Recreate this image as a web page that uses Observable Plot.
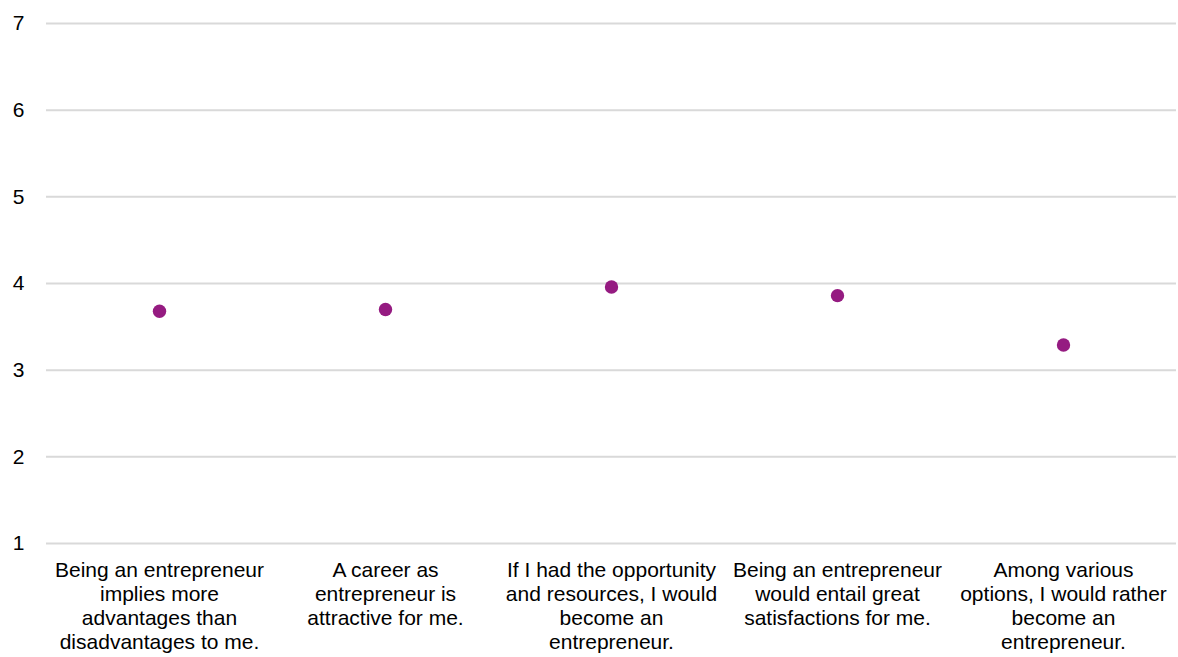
<!DOCTYPE html>
<html>
<head>
<meta charset="utf-8">
<script src="https://cdn.jsdelivr.net/npm/d3@7"></script>
<script src="https://cdn.jsdelivr.net/npm/@observablehq/plot@0.6"></script>
<style>
  html, body { margin: 0; padding: 0; background: #fff; }
  #chart svg { display: block; }
</style>
</head>
<body>
<div id="chart"></div>
<script>
const categories = [
  "Being an entrepreneur\nimplies more\nadvantages than\ndisadvantages to me.",
  "A career as\nentrepreneur is\nattractive for me.",
  "If I had the opportunity\nand resources, I would\nbecome an\nentrepreneur.",
  "Being an entrepreneur\nwould entail great\nsatisfactions for me.",
  "Among various\noptions, I would rather\nbecome an\nentrepreneur."
];
const values = [3.68, 3.70, 3.96, 3.86, 3.29];
const yTicks = [1, 2, 3, 4, 5, 6, 7];

const data = categories.map((c, i) => ({category: c, value: values[i]}));

const chart = Plot.plot({
  width: 1178,
  height: 657,
  marginTop: 23,
  marginBottom: 114,
  marginLeft: 46,
  marginRight: 2,
  style: {fontFamily: "Liberation Sans, Arial, Helvetica, sans-serif", fontSize: "21px", color: "#000", background: "#fff"},
  x: {type: "band", domain: categories, padding: 0, label: null},
  y: {domain: [1, 7], ticks: yTicks, tickFormat: "d", label: null},
  marks: [
    Plot.gridY(yTicks, {stroke: "#d9d9d9", strokeOpacity: 1, strokeWidth: 2}),
    Plot.axisY(yTicks, {tickSize: 0, tickPadding: 22, tickFormat: "d", fontSize: 21, fill: "#000", label: null}),
    Plot.axisX({tickSize: 0, tickPadding: 16, fontSize: 21, lineHeight: 1.143, fill: "#000", label: null, textAnchor: "middle"}),
    Plot.dot(data, {x: "category", y: "value", r: 6.7, fill: "#951b81", stroke: "none"})
  ]
});
document.getElementById("chart").append(chart);
</script>
</body>
</html>
